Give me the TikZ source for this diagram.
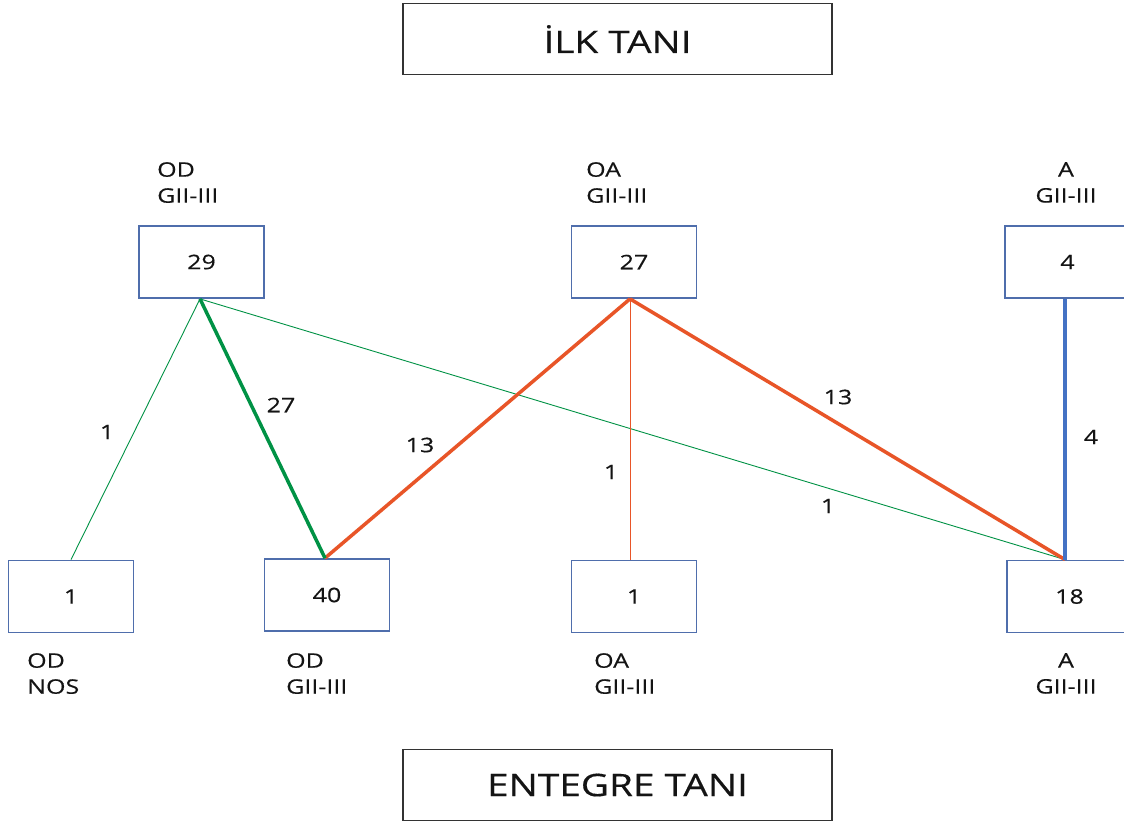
\documentclass[tikz,border=0pt]{standalone}
\usepackage{fontspec}
\setmainfont{Open Sans}[FakeStretch=1.25,FakeBold=0.4]
\definecolor{boxblue}{RGB}{79,110,172}
\definecolor{lgreen}{RGB}{0,146,69}
\definecolor{lorange}{RGB}{232,85,40}
\definecolor{lblue}{RGB}{68,114,196}
\definecolor{tgray}{RGB}{20,20,20}
\begin{document}
\begin{tikzpicture}[x=1pt,y=-1pt,
  numbox/.style={draw=boxblue, line width=1.8pt, minimum width=125pt, minimum height=72pt, inner sep=0pt, text=tgray, font=\fontsize{20}{24}\selectfont},
  titlebox/.style={draw=black!80, line width=1.8pt, minimum width=429pt, minimum height=71pt, inner sep=0pt, text=tgray, font=\fontsize{31}{38}\selectfont},
  lbl/.style={font=\fontsize{20}{26}\selectfont, text=tgray, align=left, inner sep=0pt, anchor=north west},
  clbl/.style={font=\fontsize{20}{26}\selectfont, text=tgray, align=center, inner sep=0pt, anchor=north},
  elbl/.style={font=\fontsize{20}{24}\selectfont, text=tgray, inner sep=0pt},
  thickg/.style={draw=lgreen, line width=3.5pt},
  thing/.style={draw=lgreen, line width=0.9pt},
  thicko/.style={draw=lorange, line width=3.5pt},
  thino/.style={draw=lorange, line width=0.9pt},
  thickb/.style={draw=lblue, line width=3.5pt}
]
\useasboundingbox (0,0) rectangle (1124,823);
\fill[white] (0,0) rectangle (1124,823);

% titles
\node[titlebox] (ilk) at (617.5,39) {İLK TANI};
\node[titlebox] (ent) at (617.5,785) {ENTEGRE TANI};

% top boxes
\node[numbox] (t29) at (201.5,262) {29};
\node[numbox] (t27) at (634,262) {27};
\node[numbox] (t4) at (1067.5,262) {4};

% bottom boxes
\node[numbox] (b1) at (71,596.5) {1};
\node[numbox] (b40) at (327,595) {40};
\node[numbox] (b1m) at (634,596.5) {1};
\node[numbox] (b18) at (1069.5,596.5) {18};

% top labels
\node[lbl] (l29) at (157,162) {OD\\GII-III};
\node[lbl] (l27) at (586,162) {OA\\GII-III};
\node[clbl] (l4) at (1066,162) {A\\GII-III};

% bottom labels
\node[lbl] (lb1) at (27,653) {OD\\NOS};
\node[lbl] (lb40) at (286,653) {OD\\GII-III};
\node[lbl] (lb1m) at (594,653) {OA\\GII-III};
\node[clbl] (lb18) at (1066,653) {A\\GII-III};

% connectors
\coordinate (s29) at ([xshift=-1.5pt]t29.south);
\coordinate (s27) at ([xshift=-4pt]t27.south);
\coordinate (s4) at ([xshift=-2.5pt]t4.south);
\coordinate (e40) at ([xshift=-2pt]b40.north);
\coordinate (e18) at ([xshift=-4.5pt]b18.north);
\coordinate (e1m) at ([xshift=-4pt]b1m.north);

\draw[thing] (s29) -- (b1.north);
\draw[thing] (s29) -- (e18);
\draw[thino] (s27) -- (e1m);
\draw[thicko] (s27) -- (e40);
\draw[thicko] (s27) -- (e18);
\draw[thickg] (s29) -- (e40);
\draw[thickb] (s4) -- (e18);

% edge labels
\node[elbl] (n1a) at (107,432) {1};
\node[elbl] (n27) at (281,405) {27};
\node[elbl] (n13a) at (420,445) {13};
\node[elbl] (n1b) at (611,472) {1};
\node[elbl] (n13b) at (838,397) {13};
\node[elbl] (n4) at (1091,437) {4};
\node[elbl] (n1c) at (828,506) {1};
\end{tikzpicture}
\end{document}
